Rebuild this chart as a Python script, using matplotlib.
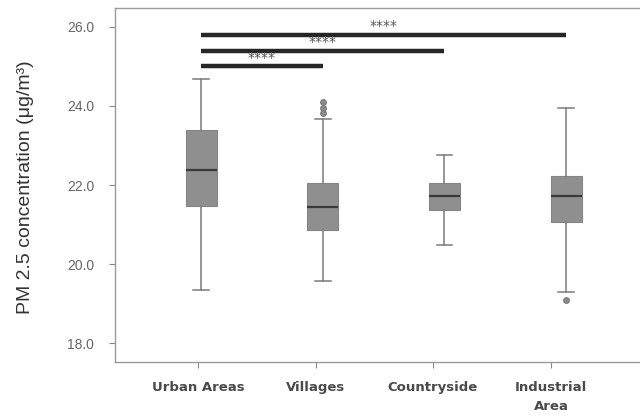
import matplotlib
matplotlib.use("Agg")
import matplotlib.pyplot as plt

# Box statistics per site type (PM2.5, µg/m³)
categories = ["Urban Areas", "Villages", "Countryside", "Industrial\nArea"]
whisker_low = [19.34, 19.58, 20.49, 19.30]
q1 = [21.47, 20.87, 21.36, 21.06]
median = [22.39, 21.44, 21.71, 21.71]
q3 = [23.40, 22.05, 22.06, 22.24]
whisker_high = [24.68, 23.67, 22.75, 23.96]
outliers = [[], [24.09, 23.96, 23.82], [], [19.09]]

# Pairwise comparisons against Urban Areas: (from, to, bar height, label)
comp_from = [0, 0, 0]
comp_to = [1, 2, 3]
comp_y = [25.00, 25.38, 25.79]
comp_label = ["****", "****", "****"]

yticks = [18.0, 20.0, 22.0, 24.0, 26.0]

fig = plt.figure(figsize=(6.4, 4.17), dpi=100)
ax = fig.add_axes([0.1797, 0.1319, 0.8203, 0.8489])

stats = []
for i in range(len(categories)):
    stats.append(dict(whislo=whisker_low[i], q1=q1[i], med=median[i],
                      q3=q3[i], whishi=whisker_high[i], fliers=outliers[i]))

positions = list(range(len(categories)))
ax.bxp(stats, positions=positions, widths=0.255, patch_artist=True,
       showfliers=True,
       boxprops=dict(facecolor="#8f8f8f", edgecolor="#858585", linewidth=0.8),
       medianprops=dict(color="#3a3a3a", linewidth=1.6),
       whiskerprops=dict(color="#7a7a7a", linewidth=1.1),
       capprops=dict(color="#7a7a7a", linewidth=1.1),
       capwidths=0.13,
       flierprops=dict(marker="o", markersize=4, markerfacecolor="#8a8a8a",
                       markeredgecolor="#808080"))

for a, b, y, lab in zip(comp_from, comp_to, comp_y, comp_label):
    ax.plot([positions[a], positions[b]], [y, y], color="#262626",
            linewidth=3.2, solid_capstyle="butt")
    ax.text((positions[a] + positions[b]) / 2, y + 0.05, lab,
            ha="center", va="bottom", fontsize=10, color="#555555")

ax.set_xlim(-0.707, 3.607)
ax.set_ylim(17.52, 26.48)
ax.set_yticks(yticks)
ax.set_yticklabels([f"{v:.1f}" for v in yticks], fontsize=10, color="#666666",
                   family="Liberation Sans")

# category labels sit slightly left of the box centres
label_pos = [-0.025, 0.945, 1.906, 2.876]
ax.set_xticks(label_pos)
ax.set_xticklabels(categories, fontsize=9.5, fontweight="bold", color="#4a4a4a",
                   family="DejaVu Sans", linespacing=1.6)
ax.tick_params(axis="both", length=4, width=0.8, color="#888888")
ax.tick_params(axis="x", pad=10)
ax.tick_params(axis="y", pad=11)

for side in ["left", "bottom", "top"]:
    ax.spines[side].set_color("#9a9a9a")
    ax.spines[side].set_linewidth(1.0)
ax.spines["right"].set_visible(False)

ax.set_ylabel("PM 2.5 concentration (μg/m³)", fontsize=14, color="#333333",
              family="Liberation Sans", va="center")
ax.yaxis.set_label_coords(-0.171, 0.494)

fig.savefig("out.png", dpi=100)
